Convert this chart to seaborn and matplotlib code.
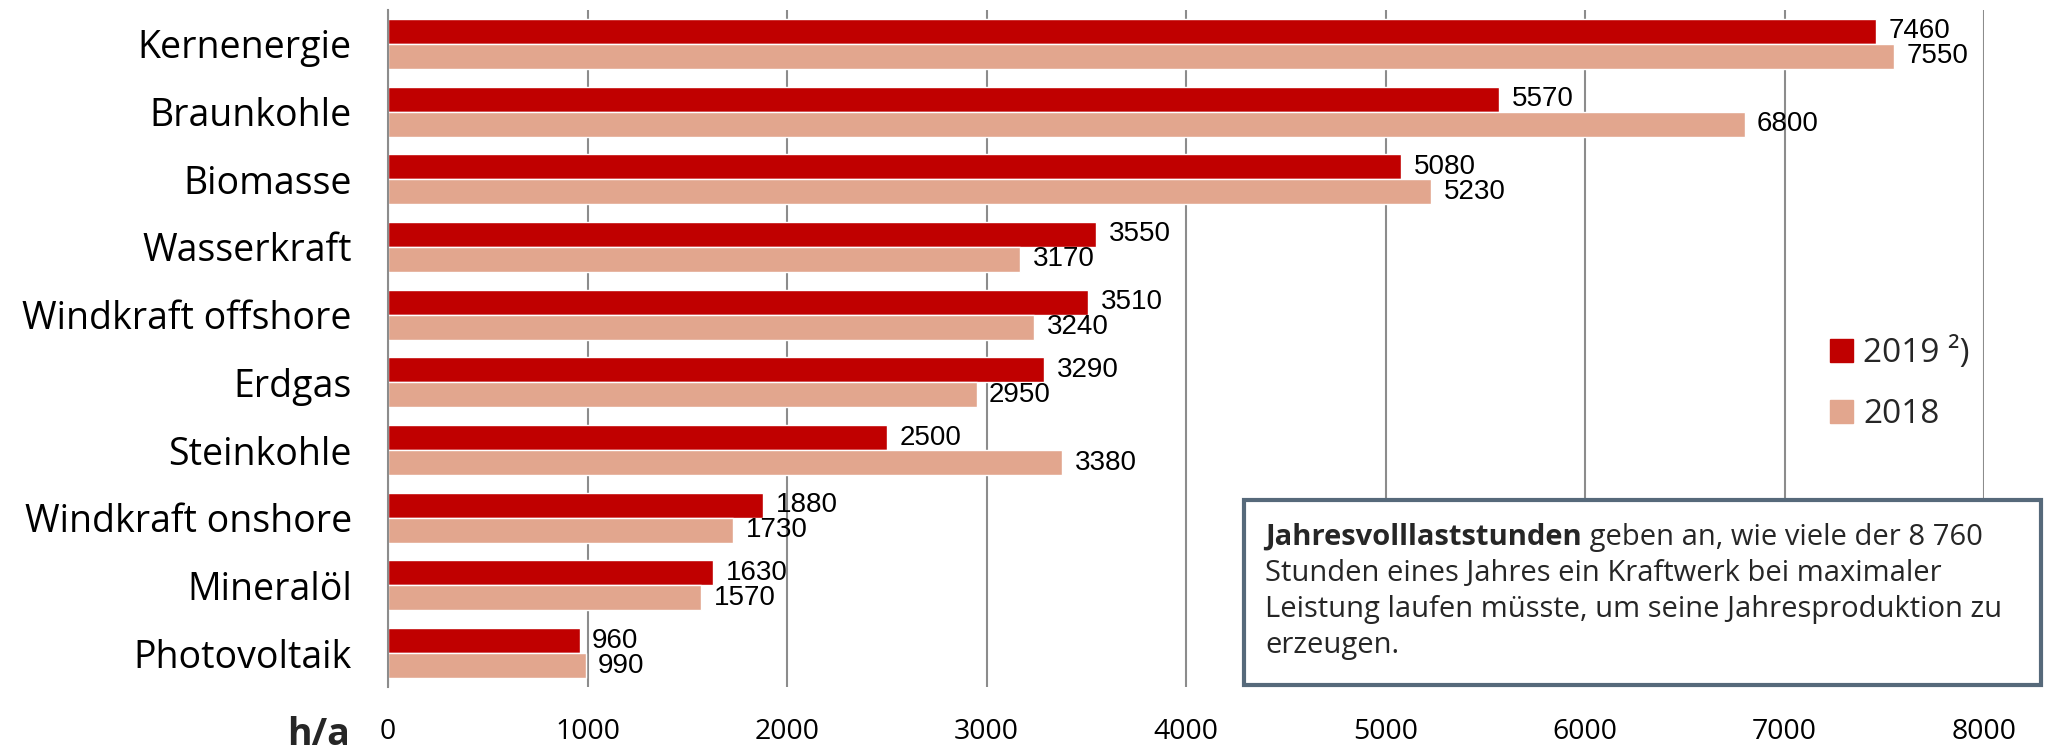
import pandas as pd
import matplotlib
matplotlib.use("Agg")
import matplotlib.pyplot as plt
from matplotlib import font_manager
from matplotlib.patches import Rectangle
import seaborn as sns

# Chart data
energietraeger = ["Kernenergie", "Braunkohle", "Biomasse", "Wasserkraft",
                  "Windkraft offshore", "Erdgas", "Steinkohle",
                  "Windkraft onshore", "Mineralöl", "Photovoltaik"]
werte_2019 = [7460, 5570, 5080, 3550, 3510, 3290, 2500, 1880, 1630, 960]
werte_2018 = [7550, 6800, 5230, 3170, 3240, 2950, 3380, 1730, 1570, 990]
jahre = ["2019 ²)", "2018"]
x_ticks = [0, 1000, 2000, 3000, 4000, 5000, 6000, 7000, 8000]

df = pd.DataFrame({
    "Energieträger": energietraeger * 2,
    "Jahr": [jahre[0]] * len(werte_2019) + [jahre[1]] * len(werte_2018),
    "h/a": werte_2019 + werte_2018,
})

sns.set_style("white")
main_font = ["Open Sans", "DejaVu Sans"]
plt.rcParams["font.family"] = main_font

installed = {f.name for f in font_manager.fontManager.ttflist}
if "Liberation Sans Narrow" in installed:
    value_font, value_size = "Liberation Sans Narrow", 22
else:
    value_font, value_size = "Liberation Sans", 20

fig = plt.figure(figsize=(20.49, 7.51), dpi=100)
ax = fig.add_axes([388 / 2049, 1 - 687 / 751, (1984 - 388) / 2049, (687 - 10) / 751])

sns.barplot(data=df, x="h/a", y="Energieträger", hue="Jahr", hue_order=jahre,
            order=energietraeger, orient="h", palette=["#C00000", "#E2A68E"],
            width=0.74, saturation=1, ax=ax, legend=False)

for cont in ax.containers:
    ax.bar_label(cont, labels=[f"{int(v)}" for v in cont.datavalues], padding=9,
                 fontsize=value_size, family=value_font, color="black")

ax.set_xlim(0, 8000)
ax.set_ylim(9.5, -0.5)
ax.set_xticks(x_ticks)
ax.set_xlabel("")
ax.set_ylabel("")
ax.grid(axis="x", color="#8C8C8C", linewidth=1.5)
ax.set_axisbelow(True)
for side in ["top", "right", "bottom"]:
    ax.spines[side].set_visible(False)
ax.spines["left"].set_color("#8C8C8C")
ax.spines["left"].set_linewidth(1.5)
ax.tick_params(axis="x", length=0, pad=22, labelsize=20.5, labelcolor="black")
ax.tick_params(axis="y", length=0, pad=26, labelsize=27, labelcolor="black")

fig.text(350 / 2049, 1 - 735 / 751, "h/a", ha="right", va="center",
         fontsize=27, fontweight="bold")

# legend
handles = [Rectangle((0, 0), 1, 1, color=c) for c in ["#C00000", "#E2A68E"]]
fig.legend(handles, jahre, loc="center left", bbox_to_anchor=(1800 / 2049, 1 - 384 / 751),
           frameon=False, fontsize=24, handlelength=0.7, handleheight=0.7,
           handletextpad=0.3, labelspacing=0.85)

# info box
box = Rectangle((1244 / 2049, 1 - 685 / 751), (2041 - 1244) / 2049, (685 - 500) / 751,
                transform=fig.transFigure, facecolor="white", edgecolor="#56697A",
                linewidth=3, zorder=5)
fig.add_artist(box)

x0 = 1265 / 2049
line_y = [537, 573, 609, 645]
bold = fig.text(x0, 1 - line_y[0] / 751, "Jahresvolllaststunden", fontsize=21,
                fontweight="bold", va="center", zorder=6)
fig.canvas.draw()
bb = bold.get_window_extent(fig.canvas.get_renderer())
fig.text(bb.x1 / fig.bbox.width, 1 - line_y[0] / 751,
         " geben an, wie viele der 8 760", fontsize=21, va="center", zorder=6)
rest = ["Stunden eines Jahres ein Kraftwerk bei maximaler",
        "Leistung laufen müsste, um seine Jahresproduktion zu",
        "erzeugen."]
for y, line in zip(line_y[1:], rest):
    fig.text(x0, 1 - y / 751, line, fontsize=21, va="center", zorder=6)

fig.savefig("out.png", dpi=100)
